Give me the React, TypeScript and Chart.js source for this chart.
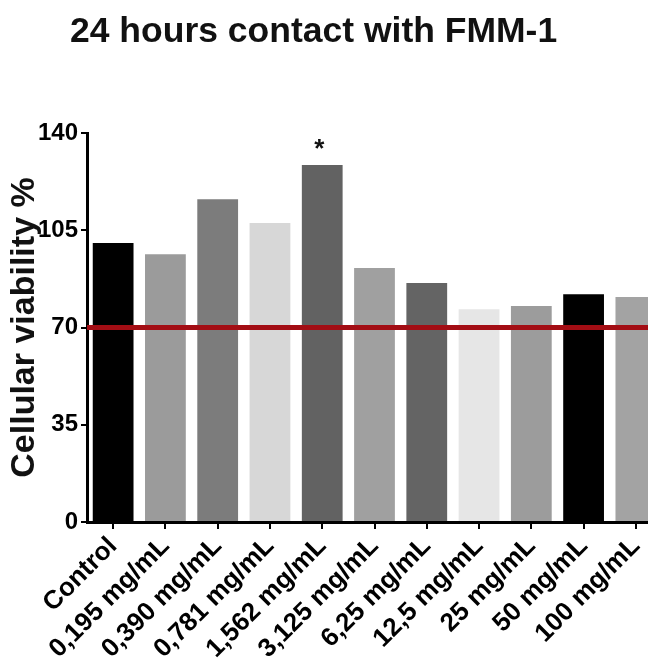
import React, { useEffect, useRef } from "react";
import { Chart, registerables } from "chart.js";

Chart.register(...registerables);

const categories = [
  "Control",
  "0,195 mg/mL",
  "0,390 mg/mL",
  "0,781 mg/mL",
  "1,562 mg/mL",
  "3,125 mg/mL",
  "6,25 mg/mL",
  "12,5 mg/mL",
  "25 mg/mL",
  "50 mg/mL",
  "100 mg/mL",
];
const viability = [100.4, 96.4, 116.2, 107.6, 128.5, 91.4, 86.0, 76.6, 77.7, 82.0, 81.0];
const barColors = [
  "#000000",
  "#9b9b9b",
  "#7c7c7c",
  "#d7d7d7",
  "#626262",
  "#a0a0a0",
  "#646464",
  "#e6e6e6",
  "#9c9c9c",
  "#000000",
  "#a3a3a3",
];
const significance = ["", "", "", "", "*", "", "", "", "", "", ""];
const threshold = 70;
const yMin = 0;
const yMax = 140;
const yStep = 35;

const TITLE = "24 hours contact with FMM-1";
const Y_TITLE = "Cellular viability %";
const FONT = "'Liberation Sans', Arial, Helvetica, sans-serif";

const CANVAS_W = 660;
const CANVAS_H = 680;

const refPlugin = {
  id: "refLine",
  afterDatasetsDraw(chart: any) {
    const { ctx, chartArea, scales } = chart;
    const y = scales.y.getPixelForValue(threshold);
    ctx.save();
    ctx.strokeStyle = "#a30d14";
    ctx.lineWidth = 5;
    ctx.beginPath();
    ctx.moveTo(chartArea.left, y);
    ctx.lineTo(chartArea.right, y);
    ctx.stroke();
    const meta = chart.getDatasetMeta(0);
    ctx.fillStyle = "#111";
    ctx.font = `bold 26px ${FONT}`;
    ctx.textAlign = "center";
    ctx.textBaseline = "alphabetic";
    meta.data.forEach((bar: any, i: number) => {
      if (significance[i]) ctx.fillText(significance[i], bar.x - 3, bar.y - 8);
    });
    ctx.restore();
  },
};

export default function App() {
  const ref = useRef<HTMLCanvasElement | null>(null);

  useEffect(() => {
    if (!ref.current) return;
    const chart = new Chart(ref.current, {
      type: "bar",
      data: {
        labels: categories,
        datasets: [
          {
            data: viability,
            backgroundColor: barColors,
            borderWidth: 0,
            categoryPercentage: 1,
            barPercentage: 0.78,
          },
        ],
      },
      options: {
        responsive: false,
        animation: false,
        devicePixelRatio: 1,
        layout: { padding: { top: 125, right: 6, left: 0, bottom: 0 } },
        plugins: {
          legend: { display: false },
          tooltip: { enabled: false },
          title: { display: false },
        },
        scales: {
          x: {
            afterFit(scale: any) {
              scale.height = CANVAS_H - 514;
            },
            grid: {
              display: true,
              drawOnChartArea: false,
              drawTicks: true,
              offset: false,
              tickLength: 7,
              lineWidth: 2,
              color: "#000",
            },
            border: { display: true, color: "#000", width: 3 },
            ticks: {
              autoSkip: false,
              maxRotation: 45,
              minRotation: 45,
              padding: 2,
              color: "#000",
              font: { family: FONT, size: 26, weight: "bold" },
            },
          },
          y: {
            min: yMin,
            max: yMax,
            afterFit(scale: any) {
              scale.width = 79;
            },
            grid: {
              display: true,
              drawOnChartArea: false,
              drawTicks: true,
              tickLength: 6,
              lineWidth: 2,
              color: "#000",
            },
            border: { display: true, color: "#000", width: 3 },
            ticks: {
              stepSize: yStep,
              padding: 3,
              color: "#000",
              font: { family: FONT, size: 24, weight: "bold" },
            },
            title: {
              display: true,
              text: Y_TITLE,
              color: "#111",
              padding: 0,
              font: { family: FONT, size: 34, weight: "bold", lineHeight: 1 },
            },
          },
        },
      },
      plugins: [refPlugin],
    });
    return () => chart.destroy();
  }, []);

  return (
    <div style={{ position: "relative", width: 648, height: 658, overflow: "hidden" }}>
      <canvas
        ref={ref}
        width={CANVAS_W}
        height={CANVAS_H}
        style={{ display: "block", width: CANVAS_W, height: CANVAS_H }}
      />
      <div
        style={{
          position: "absolute",
          left: 62,
          top: 5,
          fontFamily: FONT,
          fontWeight: "bold",
          fontSize: 35.5,
          lineHeight: "35px",
          whiteSpace: "nowrap",
          color: "#111",
        }}
      >
        {TITLE}
      </div>
    </div>
  );
}
